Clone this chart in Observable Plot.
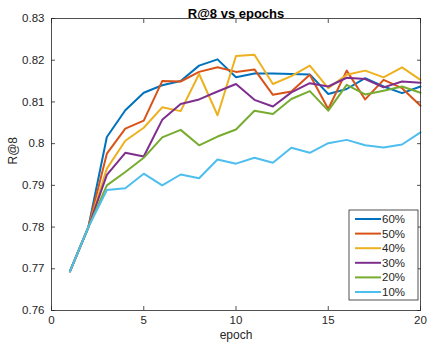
<!DOCTYPE html>
<html><head><meta charset="utf-8">
<script src="https://cdn.jsdelivr.net/npm/d3@7"></script>
<script src="https://cdn.jsdelivr.net/npm/@observablehq/plot@0.6"></script>
<style>body{margin:0;background:#fff}#chart{width:428px;height:346px}</style>
</head><body><div id="chart"></div>
<script>
const epochs = [1,2,3,4,5,6,7,8,9,10,11,12,13,14,15,16,17,18,19,20];
const s60 = [0.7694,0.7800,0.8016,0.8080,0.8122,0.8140,0.8150,0.8187,0.8202,0.8159,0.8168,0.8168,0.8167,0.8166,0.8119,0.8131,0.8157,0.8137,0.8121,0.8137];
const s50 = [0.7694,0.7800,0.7976,0.8036,0.8055,0.8150,0.8149,0.8172,0.8183,0.8172,0.8178,0.8117,0.8125,0.8165,0.8083,0.8175,0.8106,0.8153,0.8133,0.8091];
const s40 = [0.7694,0.7800,0.7940,0.8007,0.8038,0.8087,0.8078,0.8167,0.8068,0.8210,0.8213,0.8143,0.8162,0.8187,0.8133,0.8165,0.8175,0.8159,0.8183,0.8153];
const s30 = [0.7694,0.7800,0.7925,0.7978,0.7969,0.8057,0.8095,0.8106,0.8125,0.8143,0.8105,0.8089,0.8123,0.8145,0.8137,0.8158,0.8155,0.8135,0.8149,0.8146];
const s20 = [0.7694,0.7800,0.7900,0.7932,0.7966,0.8015,0.8033,0.7996,0.8017,0.8034,0.8079,0.8071,0.8107,0.8126,0.8079,0.8141,0.8118,0.8127,0.8137,0.8122];
const s10 = [0.7694,0.7800,0.7889,0.7893,0.7928,0.7900,0.7926,0.7917,0.7962,0.7952,0.7966,0.7954,0.7990,0.7978,0.8001,0.8009,0.7996,0.7991,0.7998,0.8027];
const seriesNames = ["60%","50%","40%","30%","20%","10%"];
const seriesValues = [s60,s50,s40,s30,s20,s10];
const colors = ["#0072BD","#D95319","#EDB120","#7E2F8E","#77AC30","#4DBEEE"];
const yTicks = [0.76,0.77,0.78,0.79,0.80,0.81,0.82,0.83];
const xTicks = [0,5,10,15,20];
const titleText = "R@8 vs epochs";
const xLabel = "epoch";
const yLabel = "R@8";

const rows = [];
seriesNames.forEach((name, i) => epochs.forEach((e, j) => rows.push({epoch: e, value: seriesValues[i][j], series: name})));

const font = "'Liberation Sans', Arial, Helvetica, sans-serif";
const axisColor = "#262626";
const fmt = d => String(+d.toFixed(2));

const W = 428, H = 346, ML = 51, MR = 8, MT = 18, MB = 36;
const chart = Plot.plot({
  width: W, height: H,
  marginLeft: ML, marginRight: MR, marginTop: MT, marginBottom: MB,
  style: {fontFamily: font, fontSize: "11.5px", color: axisColor, background: "#fff"},
  x: {domain: [0, 20]},
  y: {domain: [0.76, 0.83]},
  color: {domain: seriesNames, range: colors},
  marks: [
    Plot.line(rows, {x: "epoch", y: "value", z: "series", stroke: "series", strokeWidth: 2}),
    Plot.frame({stroke: axisColor, strokeWidth: 0.8}),
    Plot.axisY(yTicks, {anchor: "left", tickSize: 0, tickPadding: 7, tickFormat: fmt, label: null, fill: axisColor}),
    Plot.axisY(yTicks, {anchor: "left", tickSize: -4, tickFormat: () => "", label: null, stroke: axisColor, strokeWidth: 0.8}),
    Plot.axisY(yTicks, {anchor: "right", tickSize: -4, tickFormat: () => "", label: null, stroke: axisColor, strokeWidth: 0.8}),
    Plot.axisX(xTicks, {anchor: "bottom", tickSize: 0, tickPadding: 5, tickFormat: d => String(d), label: null, fill: axisColor}),
    Plot.axisX(xTicks, {anchor: "bottom", tickSize: -4, tickFormat: () => "", label: null, stroke: axisColor, strokeWidth: 0.8}),
    Plot.axisX(xTicks, {anchor: "top", tickSize: -4, tickFormat: () => "", label: null, stroke: axisColor, strokeWidth: 0.8}),
    Plot.text([titleText], {frameAnchor: "top", dy: -10, fontSize: 13, fontWeight: "bold", fill: "#000"}),
    Plot.text([xLabel], {frameAnchor: "bottom", lineAnchor: "top", dy: 20, fontSize: 12, fill: axisColor}),
    Plot.text([yLabel], {frameAnchor: "left", dx: -38, rotate: -90, fontSize: 12, fill: axisColor})
  ]
});
document.getElementById("chart").appendChild(chart);

// legend (MATLAB-style box in lower right of axes)
const svg = d3.select(chart.tagName === "svg" ? chart : chart.querySelector("svg"));
const frameRight = W - MR, frameBottom = H - MB;
const lx = frameRight - 71, ly = frameBottom - 100, lw = 69, lh = 90;
const g = svg.append("g").attr("font-family", font).attr("font-size", "11.5px").attr("text-anchor", "start");
g.append("rect").attr("x", lx).attr("y", ly).attr("width", lw).attr("height", lh)
  .attr("fill", "#fff").attr("stroke", axisColor).attr("stroke-width", 0.8);
seriesNames.forEach((name, i) => {
  const cy = ly + 9 + i * 14.6;
  g.append("line").attr("x1", lx + 6).attr("x2", lx + 32).attr("y1", cy).attr("y2", cy)
    .attr("stroke", colors[i]).attr("stroke-width", 2);
  g.append("text").attr("x", lx + 33).attr("y", cy).attr("dy", "0.35em")
    .attr("text-anchor", "start").attr("fill", axisColor).text(name);
});
</script>
</body></html>
